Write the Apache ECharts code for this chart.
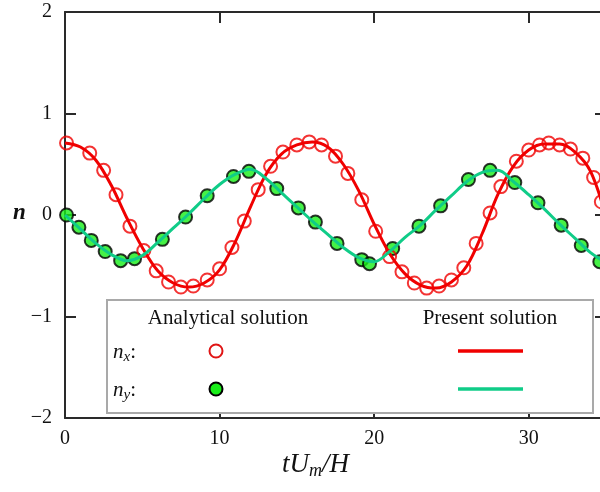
<!DOCTYPE html>
<html>
<head>
<meta charset="utf-8">
<script src="https://cdn.jsdelivr.net/npm/echarts@6/dist/echarts.min.js"></script>
<style>html,body{margin:0;padding:0;background:#fff;}#c{width:600px;height:492px;}</style>
</head>
<body>
<div id="c"></div>
<script>
// ---- data ----
var xTicks = [0, 10, 20, 30];
var yTicks = [-2, -1, 0, 1, 2];

// Analytical solution markers (t, value)
var nxT = [0.1,1.6,2.5,3.3,4.2,5.1,5.9,6.7,7.5,8.3,9.2,10.0,10.8,11.6,12.5,13.3,14.1,15.0,15.8,16.6,17.5,18.3,19.2,20.1,21.0,21.8,22.6,23.4,24.2,25.0,25.8,26.6,27.5,28.2,29.2,30.0,30.7,31.3,32.0,32.7,33.5,34.2,34.7];
var nxV = [0.71,0.61,0.44,0.20,-0.11,-0.35,-0.55,-0.66,-0.71,-0.70,-0.64,-0.53,-0.32,-0.06,0.25,0.48,0.62,0.69,0.72,0.69,0.58,0.41,0.15,-0.16,-0.41,-0.56,-0.67,-0.72,-0.70,-0.64,-0.52,-0.28,0.02,0.28,0.53,0.64,0.69,0.71,0.69,0.65,0.56,0.37,0.13];

var nyT = [0.1,0.9,1.7,2.6,3.6,4.5,6.3,7.8,9.2,10.9,11.9,13.7,15.1,16.2,17.6,19.2,19.7,21.2,22.9,24.3,26.1,27.5,29.1,30.6,32.1,33.4,34.6];
var nyV = [0.00,-0.12,-0.25,-0.36,-0.45,-0.43,-0.24,-0.02,0.19,0.38,0.43,0.26,0.07,-0.07,-0.28,-0.44,-0.48,-0.33,-0.11,0.09,0.35,0.44,0.32,0.12,-0.10,-0.30,-0.46];

// Present solution curves (t = 0..35)
var lineT = [0,1,2,3,4,5,6,7,8,9,10,11,12,13,14,15,16,17,18,19,20,21,22,23,24,25,26,27,28,29,30,31,32,33,34,35];
var nxLine = [0.71,0.67,0.54,0.29,-0.03,-0.32,-0.55,-0.67,-0.71,-0.67,-0.54,-0.27,0.08,0.40,0.60,0.69,0.72,0.67,0.50,0.24,-0.09,-0.38,-0.58,-0.69,-0.72,-0.66,-0.50,-0.18,0.20,0.48,0.64,0.70,0.70,0.62,0.43,-0.02];
var nyLine = [0.00,-0.14,-0.28,-0.39,-0.45,-0.40,-0.27,-0.13,0.01,0.16,0.30,0.40,0.45,0.36,0.22,0.08,-0.06,-0.19,-0.32,-0.42,-0.46,-0.36,-0.22,-0.10,0.05,0.19,0.33,0.42,0.44,0.33,0.20,0.06,-0.09,-0.23,-0.37,-0.47];

var legendHeaders = ['Analytical solution', 'Present solution'];

function zip(a, b) { return a.map(function (v, i) { return [v, b[i]]; }); }

var FONT = '"Liberation Serif", "Times New Roman", serif';
var RED = '#f00000';
var GREEN_LINE = '#10cc88';
var GREEN_FILL = '#18ee18';
var AXIS = '#2a2a2a';

var chart = echarts.init(document.getElementById('c'), null, { renderer: 'canvas' });

function xAx(pos, showLabel) {
  return {
    type: 'value', position: pos, min: 0, max: 35, interval: 10,
    axisLine: { show: true, onZero: false, lineStyle: { color: AXIS, width: 2 } },
    axisTick: { show: true, inside: true, length: 11, lineStyle: { color: AXIS, width: 2 } },
    axisLabel: {
      show: showLabel, margin: 11,
      fontFamily: FONT, fontSize: 20, color: '#111',
      formatter: function (v) { return xTicks.indexOf(v) >= 0 ? String(v) : ''; }
    },
    splitLine: { show: false }
  };
}
function yAx(pos, showLabel) {
  return {
    type: 'value', position: pos, min: -2, max: 2, interval: 1,
    axisLine: { show: true, onZero: false, lineStyle: { color: AXIS, width: 2 } },
    axisTick: { show: true, inside: true, length: 11, lineStyle: { color: AXIS, width: 2 } },
    axisLabel: {
      show: showLabel, margin: 13,
      fontFamily: FONT, fontSize: 20, color: '#111',
      formatter: function (v) { return yTicks.indexOf(v) >= 0 ? String(v).replace('-', '\u2212') : ''; }
    },
    splitLine: { show: false }
  };
}

var option = {
  animation: false,
  backgroundColor: '#fff',
  grid: { left: 65, top: 12, width: 541, height: 406, containLabel: false, outerBoundsMode: 'none' },
  xAxis: [xAx('bottom', true), xAx('top', false)],
  yAxis: [yAx('left', true), yAx('right', false)],
  series: [
    {
      name: 'nx analytical', type: 'scatter', data: zip(nxT, nxV),
      symbol: 'circle', symbolSize: 13, z: 3,
      itemStyle: { color: 'rgba(255,255,255,0)', borderColor: RED, borderWidth: 2 }
    },
    {
      name: 'ny analytical', type: 'scatter', data: zip(nyT, nyV),
      symbol: 'circle', symbolSize: 13, z: 2,
      itemStyle: { color: GREEN_FILL, borderColor: '#000', borderWidth: 2 }
    },
    {
      name: 'nx present', type: 'line', data: zip(lineT, nxLine),
      smooth: 0.35, showSymbol: false, z: 4,
      lineStyle: { color: RED, width: 3 }
    },
    {
      name: 'ny present', type: 'line', data: zip(lineT, nyLine),
      smooth: 0.35, showSymbol: false, z: 4,
      lineStyle: { color: GREEN_LINE, width: 3 }
    }
  ],
  graphic: [
    // axis titles
    {
      type: 'text', z: 100, x: 282, y: 449,
      style: {
        text: '{i|tU}{s|m}{i|/H}', fill: '#111',
        rich: {
          i: { fontFamily: FONT, fontStyle: 'italic', fontSize: 27, fill: '#111' },
          s: { fontFamily: FONT, fontStyle: 'italic', fontSize: 18, fill: '#111', padding: [13, 0, 0, 0] }
        }
      }
    },
    {
      type: 'text', x: 13, y: 202, z: 100,
      style: { text: 'n', fontFamily: FONT, fontStyle: 'italic', fontWeight: 'bold', fontSize: 23, fill: '#111' }
    },
    // legend box
    {
      type: 'rect', z: 100,
      shape: { x: 107, y: 300, width: 486, height: 113 },
      style: { fill: '#fff', stroke: '#a9a9a9', lineWidth: 2 }
    },
    {
      type: 'text', z: 101, x: 228, y: 318,
      style: { text: legendHeaders[0], fontFamily: FONT, fontSize: 21, fill: '#111', align: 'center', verticalAlign: 'middle' }
    },
    {
      type: 'text', z: 101, x: 490, y: 318,
      style: { text: legendHeaders[1], fontFamily: FONT, fontSize: 21, fill: '#111', align: 'center', verticalAlign: 'middle' }
    },
    {
      type: 'text', z: 101, x: 113, y: 352,
      style: {
        text: '{n|n}{s|x}{c|:}', verticalAlign: 'middle',
        rich: {
          n: { fontFamily: FONT, fontStyle: 'italic', fontSize: 21, fill: '#111' },
          s: { fontFamily: FONT, fontStyle: 'italic', fontSize: 15, fill: '#111', padding: [10, 0, 0, 0] },
          c: { fontFamily: FONT, fontSize: 21, fill: '#111' }
        }
      }
    },
    {
      type: 'text', z: 101, x: 113, y: 390,
      style: {
        text: '{n|n}{s|y}{c|:}', verticalAlign: 'middle',
        rich: {
          n: { fontFamily: FONT, fontStyle: 'italic', fontSize: 21, fill: '#111' },
          s: { fontFamily: FONT, fontStyle: 'italic', fontSize: 15, fill: '#111', padding: [10, 0, 0, 0] },
          c: { fontFamily: FONT, fontSize: 21, fill: '#111' }
        }
      }
    },
    {
      type: 'circle', z: 101, shape: { cx: 216, cy: 351, r: 6.5 },
      style: { fill: '#fff', stroke: '#e01515', lineWidth: 2 }
    },
    {
      type: 'circle', z: 101, shape: { cx: 216, cy: 389, r: 6.5 },
      style: { fill: GREEN_FILL, stroke: '#000', lineWidth: 2 }
    },
    {
      type: 'line', z: 101, shape: { x1: 458, y1: 351, x2: 523, y2: 351 },
      style: { stroke: RED, lineWidth: 3.5 }
    },
    {
      type: 'line', z: 101, shape: { x1: 458, y1: 389, x2: 523, y2: 389 },
      style: { stroke: GREEN_LINE, lineWidth: 3.5 }
    }
  ]
};
chart.setOption(option);
</script>
</body>
</html>
